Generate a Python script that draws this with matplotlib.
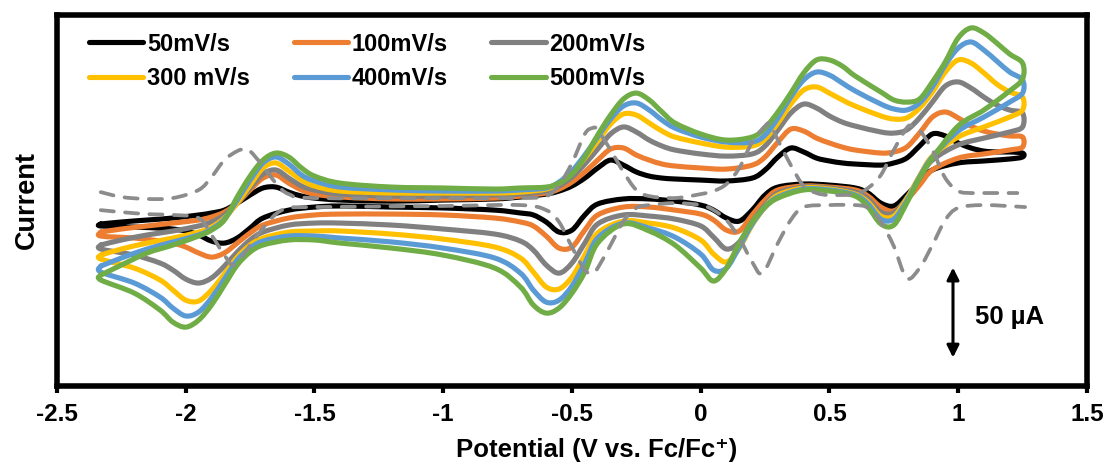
import numpy as np
import matplotlib.pyplot as plt
from matplotlib.path import Path
from matplotlib.patches import PathPatch
from matplotlib.lines import Line2D

plt.rcParams['font.family'] = ['Liberation Sans', 'DejaVu Sans']
plt.rcParams['font.weight'] = 'bold'

# potentials (V vs Fc/Fc+) of the forward (anodic) and return (cathodic) sweeps
E_fwd = [-2.33, -2.25, -2.15, -2.05, -1.95, -1.9, -1.85, -1.8, -1.75, -1.7, -1.65, -1.6, -1.55, -1.5,
         -1.4, -1.2, -1.0, -0.8, -0.7, -0.6, -0.55, -0.5, -0.45, -0.4, -0.35, -0.3, -0.25, -0.2, -0.15,
         -0.1, 0.0, 0.1, 0.2, 0.25, 0.3, 0.35, 0.4, 0.45, 0.5, 0.55, 0.6, 0.7, 0.75, 0.8, 0.85, 0.9,
         0.95, 1.0, 1.05, 1.1, 1.15, 1.2, 1.25]
E_rev = [1.25, 1.2, 1.1, 1.0, 0.9, 0.85, 0.8, 0.75, 0.7, 0.65, 0.6, 0.5, 0.4, 0.3, 0.25, 0.2, 0.15,
         0.1, 0.05, 0.0, -0.1, -0.2, -0.3, -0.4, -0.45, -0.5, -0.55, -0.6, -0.65, -0.7, -0.8, -1.0,
         -1.2, -1.4, -1.5, -1.6, -1.7, -1.75, -1.8, -1.85, -1.9, -1.95, -2.0, -2.05, -2.1, -2.2, -2.33]

# currents in uA
i50_fwd = [-13.3, -12.2, -11.1, -10.0, -8.3, -7.2, -5.6, -1.7, 2.8, 6.7, 7.2, 4.4, 2.2, 1.1, 0, -0.6,
           0, 0.6, 1.7, 3.3, 5.0, 7.8, 12.2, 17.8, 22.2, 19.4, 15.6, 13.3, 12.2, 11.7, 11.1, 10.6,
           12.2, 16.7, 23.9, 28.9, 26.7, 23.3, 21.7, 20.6, 20.0, 19.4, 20.6, 23.3, 30.0, 36.7, 35.6,
           31.7, 28.9, 27.2, 26.7, 26.7, 26.1]
i50_rev = [23.9, 22.8, 21.7, 20.6, 16.7, 10.0, 2.8, -3.3, -1.7, 3.9, 6.7, 8.3, 8.9, 7.2, 2.8, -5.6,
           -11.7, -10.0, -5.6, -2.8, -0.6, 0.6, 0.6, -2.2, -8.3, -16.7, -17.8, -12.2, -8.3, -7.2,
           -5.6, -4.4, -3.9, -3.3, -3.9, -5.6, -10.0, -15.6, -21.1, -23.9, -22.8, -19.4, -17.2,
           -16.1, -15.6, -15.0, -14.4]

i100_fwd = [-17.8, -16.1, -14.4, -12.8, -11.1, -9.4, -6.7, -1.7, 5.6, 12.2, 13.9, 9.4, 5.6, 3.3, 1.7,
            0.6, 0.6, 1.1, 2.2, 3.9, 6.1, 10.0, 15.6, 22.2, 28.3, 28.9, 25.0, 22.2, 20.0, 18.9, 17.8,
            17.2, 19.4, 23.9, 32.2, 39.4, 38.3, 34.4, 31.7, 29.4, 27.8, 26.1, 26.7, 29.4, 37.2, 46.1,
            48.9, 45.6, 41.1, 38.3, 36.7, 35.6, 35.0]
i100_rev = [29.4, 27.8, 25.6, 23.3, 16.7, 8.3, 0, -6.1, -3.9, 2.2, 5.6, 7.2, 7.8, 5.6, 0, -8.3, -17.2,
            -16.7, -11.1, -7.8, -5.6, -3.9, -3.9, -8.3, -16.7, -26.1, -26.7, -20.0, -14.4, -12.2,
            -10.0, -8.3, -7.8, -7.8, -8.3, -10.0, -13.9, -18.3, -23.9, -29.4, -31.7, -29.4, -26.1,
            -23.9, -22.8, -21.1, -20.0]

i200_fwd = [-25.0, -22.2, -19.4, -17.2, -14.4, -12.2, -8.3, -1.7, 6.7, 14.4, 16.7, 12.2, 7.8, 5.6,
            3.3, 2.2, 2.2, 2.8, 3.3, 5.0, 7.8, 12.8, 20.0, 28.3, 36.7, 40.6, 37.8, 33.3, 30.0, 27.8,
            25.6, 24.4, 25.6, 30.0, 38.9, 48.3, 53.3, 51.1, 46.7, 43.3, 41.1, 37.8, 37.2, 38.9, 45.6,
            54.4, 63.3, 65.6, 62.2, 57.2, 52.8, 50.0, 48.3]
i200_rev = [40.6, 37.8, 34.4, 30.6, 22.2, 12.2, 1.1, -7.2, -6.7, 0.6, 4.4, 6.7, 7.2, 3.9, -2.8, -12.2,
            -23.3, -27.2, -20.6, -14.4, -10.6, -8.9, -8.3, -13.3, -23.9, -35.0, -40.6, -36.1, -27.8,
            -22.8, -18.9, -16.1, -13.9, -12.8, -12.8, -13.9, -17.8, -22.2, -28.9, -36.7, -43.3,
            -46.1, -43.9, -38.9, -35.0, -30.6, -27.2]

i300_fwd = [-30.6, -27.2, -23.9, -21.1, -17.8, -15.0, -10.0, -1.7, 8.3, 17.8, 20.6, 16.1, 11.1, 7.8,
            5.0, 3.9, 3.9, 3.9, 4.4, 6.1, 9.4, 15.0, 23.3, 32.8, 42.2, 47.8, 47.2, 42.8, 38.3, 35.0,
            31.7, 29.4, 30.0, 33.9, 42.8, 53.3, 61.1, 62.8, 59.4, 55.6, 52.2, 46.7, 45.0, 45.6, 51.1,
            60.0, 71.1, 77.8, 76.1, 70.6, 64.4, 60.0, 57.2]
i300_rev = [50.0, 46.1, 40.6, 35.0, 24.4, 13.3, 0.6, -8.9, -8.9, -1.1, 3.3, 6.1, 6.7, 2.8, -3.9,
            -13.9, -26.7, -34.4, -30.0, -22.2, -15.6, -12.8, -11.7, -18.3, -30.6, -42.8, -49.4,
            -48.3, -40.0, -32.2, -26.1, -21.7, -18.9, -17.2, -17.2, -17.8, -21.1, -25.0, -31.7,
            -41.1, -50.0, -56.1, -55.6, -50.0, -44.4, -37.8, -32.8]

i400_fwd = [-36.7, -32.2, -27.2, -23.3, -19.4, -16.1, -10.6, 0, 11.1, 20.6, 23.9, 20.0, 13.9, 10.6,
            7.2, 5.6, 5.0, 5.0, 5.6, 6.7, 10.0, 16.1, 25.0, 35.0, 45.0, 52.2, 53.9, 50.0, 44.4, 40.0,
            35.0, 32.2, 32.2, 36.1, 45.6, 57.2, 66.7, 71.1, 69.4, 65.0, 60.6, 53.3, 50.6, 50.0, 53.9,
            62.8, 75.0, 84.4, 87.8, 83.3, 77.2, 71.1, 66.7]
i400_rev = [59.4, 54.4, 46.1, 38.3, 23.9, 12.8, -0.6, -10.6, -10.6, -2.2, 2.8, 5.6, 6.1, 1.7, -3.9,
            -13.3, -26.1, -37.8, -38.9, -30.0, -20.6, -15.6, -12.8, -21.1, -35.0, -47.8, -55.6,
            -56.7, -50.0, -40.6, -32.2, -26.7, -23.3, -21.1, -20.0, -20.0, -22.8, -26.7, -33.3,
            -43.9, -54.4, -62.2, -64.4, -60.0, -53.9, -46.1, -40.0]

i500_fwd = [-41.7, -36.1, -29.4, -25.0, -20.0, -16.7, -11.1, 1.7, 13.3, 22.2, 26.1, 23.9, 17.8, 13.3,
            9.4, 7.2, 6.7, 6.1, 6.7, 7.2, 9.4, 14.4, 23.9, 36.1, 47.2, 56.1, 59.4, 55.6, 48.9, 42.8,
            36.7, 33.3, 35.0, 40.0, 48.9, 59.4, 70.6, 77.8, 77.8, 74.4, 68.9, 60.0, 55.6, 54.4, 56.1,
            65.6, 76.7, 90.0, 95.6, 92.8, 87.2, 81.1, 76.1]
i500_rev = [67.2, 60.6, 50.0, 41.1, 23.3, 12.2, -1.7, -13.9, -13.3, -3.9, 2.2, 5.0, 5.6, 1.1, -3.9,
            -12.2, -23.9, -37.8, -45.0, -37.8, -25.0, -17.2, -13.3, -23.9, -40.0, -51.7, -60.0,
            -62.8, -58.3, -48.3, -37.8, -30.6, -26.7, -23.9, -22.2, -22.2, -25.0, -28.9, -36.1,
            -47.2, -58.3, -66.7, -70.6, -67.8, -61.1, -51.7, -44.4]

# differential pulse traces (oxidative and reductive sweeps)
E_dpv_ox = [-2.33, -2.25, -2.15, -2.05, -1.95, -1.9, -1.85, -1.8, -1.77, -1.75, -1.7, -1.65, -1.6,
            -1.5, -1.0, -0.7, -0.6, -0.55, -0.5, -0.45, -0.42, -0.4, -0.35, -0.3, -0.25, -0.2, -0.1,
            0.0, 0.05, 0.1, 0.15, 0.2, 0.25, 0.27, 0.3, 0.35, 0.4, 0.45, 0.5, 0.6, 0.65, 0.7, 0.75,
            0.8, 0.82, 0.85, 0.9, 0.95, 1.0, 1.05, 1.1, 1.23]
i_dpv_ox = [4.4, 1.7, 0.6, 1.1, 5.6, 12.8, 22.2, 27.2, 28.3, 27.2, 18.9, 9.4, 3.3, 1.1, 1.1, 1.1, 2.2,
            8.3, 20.6, 36.7, 40.0, 38.9, 27.8, 15.6, 5.6, 2.2, 1.1, 3.3, 5.0, 8.9, 17.8, 32.2, 41.1,
            42.2, 33.3, 19.4, 7.8, 3.9, 2.8, 3.3, 6.7, 13.9, 27.8, 40.0, 41.1, 38.9, 27.8, 12.2, 5.0,
            3.9, 3.9, 3.9]
E_dpv_red = [-2.33, -2.25, -2.15, -2.05, -1.95, -1.9, -1.85, -1.81, -1.75, -1.7, -1.65, -1.6, -1.5,
             -1.0, -0.7, -0.6, -0.55, -0.5, -0.45, -0.42, -0.4, -0.35, -0.3, -0.25, -0.2, -0.1, 0.0,
             0.05, 0.1, 0.15, 0.2, 0.24, 0.3, 0.35, 0.4, 0.5, 0.6, 0.65, 0.7, 0.75, 0.8, 0.85, 0.9,
             0.95, 1.0, 1.1, 1.26]
i_dpv_red = [-5.6, -6.7, -7.8, -8.3, -10.0, -19.4, -30.6, -36.1, -25.0, -15.6, -7.8, -4.4, -3.9, -3.3,
             -2.8, -5.6, -12.2, -26.1, -38.9, -40.6, -37.8, -25.0, -11.7, -4.4, -2.8, -1.7, -2.8,
             -5.6, -11.1, -21.1, -34.4, -40.6, -23.9, -11.1, -3.9, -2.8, -2.8, -4.4, -12.2, -25.6,
             -43.3, -37.8, -25.0, -11.1, -4.4, -2.8, -3.9]

labels = ['50mV/s', '100mV/s', '200mV/s', '300 mV/s', '400mV/s', '500mV/s']
colors = ['#000000', '#ED7D31', '#808080', '#FFC000', '#5B9BD5', '#70AD47']
currents = [(i50_fwd, i50_rev), (i100_fwd, i100_rev), (i200_fwd, i200_rev),
            (i300_fwd, i300_rev), (i400_fwd, i400_rev), (i500_fwd, i500_rev)]


def smooth_path(x, y):
    # smoothed line through the points (cubic Bezier segments, like a spreadsheet "smoothed line")
    pts = np.column_stack([x, y]).astype(float)
    n = len(pts)
    verts = [pts[0]]
    codes = [Path.MOVETO]
    for k in range(n - 1):
        p0 = pts[k - 1] if k > 0 else pts[k]
        p1, p2 = pts[k], pts[k + 1]
        p3 = pts[k + 2] if k + 2 < n else pts[k + 1]
        verts += [p1 + (p2 - p0) / 6, p2 - (p3 - p1) / 6, p2]
        codes += [Path.CURVE4] * 3
    return Path(verts, codes)


fig = plt.figure(figsize=(11.05, 4.68), dpi=100)
ax = fig.add_axes([0.0516, 0.1752, 0.932, 0.7928])

handles = []
for (fwd, rev), c, lab in zip(currents, colors, labels):
    x = E_fwd + E_rev + [E_fwd[0]]
    y = fwd + rev + [fwd[0]]
    ax.add_patch(PathPatch(smooth_path(x, y), fill=False, edgecolor=c, lw=3.7,
                           capstyle='round', joinstyle='round'))
    handles.append(Line2D([], [], color=c, lw=3.7, solid_capstyle='round'))

for E, i in [(E_dpv_ox, i_dpv_ox), (E_dpv_red, i_dpv_red)]:
    ax.add_patch(PathPatch(smooth_path(E, i), fill=False, edgecolor='#8C8C8C', lw=2.7,
                           ls=(0, (3.5, 3.0)), capstyle='round'))

# scale bar
ax.annotate('', xy=(0.98, -37.5), xytext=(0.98, -87.5),
            arrowprops=dict(arrowstyle='<|-|>', color='black', lw=2.2,
                            mutation_scale=18, shrinkA=0, shrinkB=0))
ax.text(1.065, -65, '50 µA', fontsize=18.5, fontweight='bold', ha='left', va='center')

ax.set_xlim(-2.5, 1.5)
ax.set_ylim(-103.3, 102.8)
ax.set_xticks([-2.5, -2, -1.5, -1, -0.5, 0, 0.5, 1, 1.5])
ax.set_xticklabels(['-2.5', '-2', '-1.5', '-1', '-0.5', '0', '0.5', '1', '1.5'])
ax.set_yticks([])
ax.tick_params(axis='x', direction='out', length=5, width=3, labelsize=17.5, pad=7)
for s in ax.spines.values():
    s.set_linewidth(4)

ax.set_xlabel('Potential (V vs. Fc/Fc⁺)', fontsize=18.5, fontweight='bold', labelpad=9)
ax.xaxis.label.set_x(0.524)
ax.set_ylabel('Current', fontsize=19.5, fontweight='bold', labelpad=12)

order = [0, 3, 1, 4, 2, 5]
ax.legend([handles[k] for k in order], [labels[k] for k in order], ncol=3, loc='upper left',
          bbox_to_anchor=(0.014, 1.0), frameon=False, fontsize=17, handlelength=2.3,
          handletextpad=0.15, columnspacing=1.85, labelspacing=0.47, borderaxespad=0.35)

fig.savefig('out.png', dpi=100)
